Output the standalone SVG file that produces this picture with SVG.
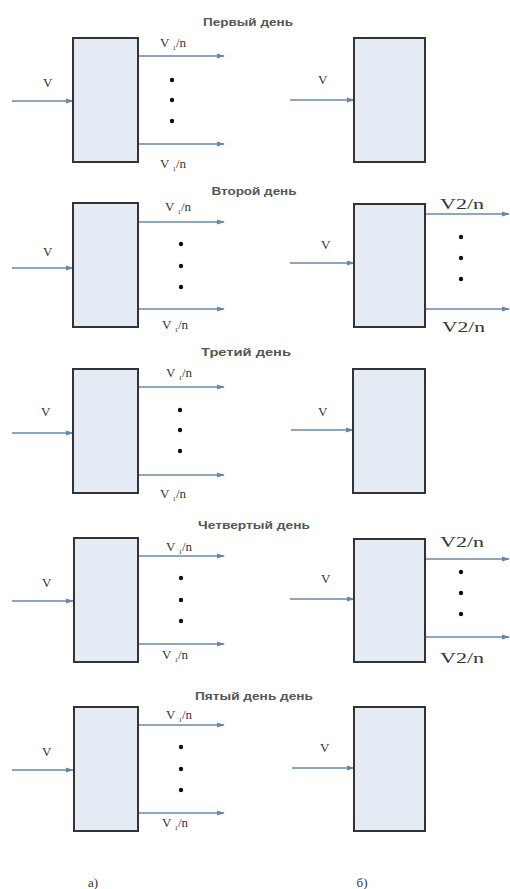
<svg xmlns="http://www.w3.org/2000/svg" width="510" height="889" viewBox="0 0 510 889">
<style>
.box{fill:#e5ebf5;stroke:#333;stroke-width:2}
.ar{stroke:#6a87a8;stroke-width:1.6;fill:none;marker-end:url(#ah)}
.t{font-family:"Liberation Sans",Arial,sans-serif;font-size:10px;font-weight:bold;fill:#555;text-anchor:middle}
.l{font-family:"Liberation Serif","Times New Roman",serif;font-size:13px;fill:#333}
.w{font-size:15px}
.d{fill:#111}
</style>
<defs>
<marker id="ah" markerWidth="8" markerHeight="6" refX="7" refY="3" orient="auto" markerUnits="userSpaceOnUse">
<path d="M0,0.5 L8,3 L0,5.5 Z" fill="#6a87a8"/>
</marker>
</defs>
<rect width="510" height="889" fill="#fff"/>
<g id="titles">
<text class="t" x="248" y="26" textLength="90" lengthAdjust="spacingAndGlyphs">Первый день</text>
<text class="t" x="254" y="195" textLength="85" lengthAdjust="spacingAndGlyphs">Второй день</text>
<text class="t" x="246" y="356" textLength="90" lengthAdjust="spacingAndGlyphs">Третий день</text>
<text class="t" x="254" y="529" textLength="112" lengthAdjust="spacingAndGlyphs">Четвертый день</text>
<text class="t" x="254" y="700" textLength="118" lengthAdjust="spacingAndGlyphs">Пятый день день</text>
</g>
<g id="connectors">
<line class="ar" x1="12" y1="101" x2="73" y2="101"/>
<line class="ar" x1="138" y1="56" x2="224" y2="56"/>
<line class="ar" x1="138" y1="144" x2="224" y2="144"/>
<line class="ar" x1="290" y1="100" x2="354" y2="100"/>
<line class="ar" x1="12" y1="268" x2="73" y2="268"/>
<line class="ar" x1="138" y1="222" x2="224" y2="222"/>
<line class="ar" x1="138" y1="309" x2="224" y2="309"/>
<line class="ar" x1="290" y1="263" x2="354" y2="263"/>
<line class="ar" x1="425" y1="214" x2="509" y2="214"/>
<line class="ar" x1="425" y1="309" x2="509" y2="309"/>
<line class="ar" x1="12" y1="433" x2="73" y2="433"/>
<line class="ar" x1="138" y1="387" x2="224" y2="387"/>
<line class="ar" x1="138" y1="475" x2="224" y2="475"/>
<line class="ar" x1="291" y1="430" x2="353" y2="430"/>
<line class="ar" x1="12" y1="601" x2="73" y2="601"/>
<line class="ar" x1="138" y1="556" x2="224" y2="556"/>
<line class="ar" x1="138" y1="644" x2="224" y2="644"/>
<line class="ar" x1="290" y1="599" x2="354" y2="599"/>
<line class="ar" x1="425" y1="559" x2="509" y2="559"/>
<line class="ar" x1="425" y1="637" x2="509" y2="637"/>
<line class="ar" x1="12" y1="770" x2="73" y2="770"/>
<line class="ar" x1="138" y1="725" x2="224" y2="725"/>
<line class="ar" x1="138" y1="813" x2="224" y2="813"/>
<line class="ar" x1="292" y1="768" x2="354" y2="768"/>
</g>
<g id="a1">
<rect class="box" x="73" y="38" width="65" height="124"/>
<text class="l" x="43" y="87">V</text>
<text class="l" x="160" y="47">V <tspan font-size="7" dy="3">1</tspan><tspan dy="-3">/n</tspan></text>
<text class="l" x="160" y="168">V <tspan font-size="7" dy="3">1</tspan><tspan dy="-3">/n</tspan></text>
<circle class="d" cx="172" cy="80" r="2.2"/><circle class="d" cx="172" cy="100" r="2.2"/><circle class="d" cx="172" cy="121" r="2.2"/>
</g>
<g id="b1">
<rect class="box" x="354" y="38" width="71" height="124"/>
<text class="l" x="318" y="84">V</text>
</g>
<g id="a2">
<rect class="box" x="73" y="203" width="65" height="124"/>
<text class="l" x="43" y="256">V</text>
<text class="l" x="165" y="211">V <tspan font-size="7" dy="3">1</tspan><tspan dy="-3">/n</tspan></text>
<text class="l" x="162" y="329">V <tspan font-size="7" dy="3">1</tspan><tspan dy="-3">/n</tspan></text>
<circle class="d" cx="181" cy="244" r="2.2"/><circle class="d" cx="181" cy="266" r="2.2"/><circle class="d" cx="181" cy="287" r="2.2"/>
</g>
<g id="b2">
<rect class="box" x="354" y="204" width="71" height="123"/>
<text class="l" x="321" y="249">V</text>
<text class="l w" x="440" y="209" textLength="44" lengthAdjust="spacingAndGlyphs">V2/n</text>
<text class="l w" x="442" y="332" textLength="43" lengthAdjust="spacingAndGlyphs">V2/n</text>
<circle class="d" cx="461" cy="237" r="2.2"/><circle class="d" cx="461" cy="258" r="2.2"/><circle class="d" cx="461" cy="279" r="2.2"/>
</g>
<g id="a3">
<rect class="box" x="73" y="369" width="65" height="124"/>
<text class="l" x="41" y="416">V</text>
<text class="l" x="166" y="377">V <tspan font-size="7" dy="3">1</tspan><tspan dy="-3">/n</tspan></text>
<text class="l" x="160" y="498">V <tspan font-size="7" dy="3">1</tspan><tspan dy="-3">/n</tspan></text>
<circle class="d" cx="180" cy="410" r="2.2"/><circle class="d" cx="180" cy="430" r="2.2"/><circle class="d" cx="180" cy="451" r="2.2"/>
</g>
<g id="b3">
<rect class="box" x="353" y="369" width="72" height="124"/>
<text class="l" x="318" y="416">V</text>
</g>
<g id="a4">
<rect class="box" x="74" y="538" width="64" height="124"/>
<text class="l" x="42" y="587">V</text>
<text class="l" x="166" y="551">V <tspan font-size="7" dy="3">1</tspan><tspan dy="-3">/n</tspan></text>
<text class="l" x="162" y="659">V <tspan font-size="7" dy="3">1</tspan><tspan dy="-3">/n</tspan></text>
<circle class="d" cx="181" cy="578" r="2.2"/><circle class="d" cx="181" cy="600" r="2.2"/><circle class="d" cx="181" cy="621" r="2.2"/>
</g>
<g id="b4">
<rect class="box" x="354" y="539" width="71" height="123"/>
<text class="l" x="321" y="583">V</text>
<text class="l w" x="440" y="547" textLength="44" lengthAdjust="spacingAndGlyphs">V2/n</text>
<text class="l w" x="440" y="663" textLength="44" lengthAdjust="spacingAndGlyphs">V2/n</text>
<circle class="d" cx="461" cy="572" r="2.2"/><circle class="d" cx="461" cy="593" r="2.2"/><circle class="d" cx="461" cy="614" r="2.2"/>
</g>
<g id="a5">
<rect class="box" x="74" y="707" width="64" height="124"/>
<text class="l" x="42" y="756">V</text>
<text class="l" x="166" y="719">V <tspan font-size="7" dy="3">1</tspan><tspan dy="-3">/n</tspan></text>
<text class="l" x="162" y="827">V <tspan font-size="7" dy="3">1</tspan><tspan dy="-3">/n</tspan></text>
<circle class="d" cx="181" cy="747" r="2.2"/><circle class="d" cx="181" cy="769" r="2.2"/><circle class="d" cx="181" cy="790" r="2.2"/>
</g>
<g id="b5">
<rect class="box" x="354" y="707" width="71" height="124"/>
<text class="l" x="320" y="752">V</text>
</g>
<g id="captions">
<text class="l" x="93" y="887" text-anchor="middle" font-size="12">а)</text>
<text class="l" x="362" y="887" text-anchor="middle" font-size="12">б)</text>
</g>
</svg>
